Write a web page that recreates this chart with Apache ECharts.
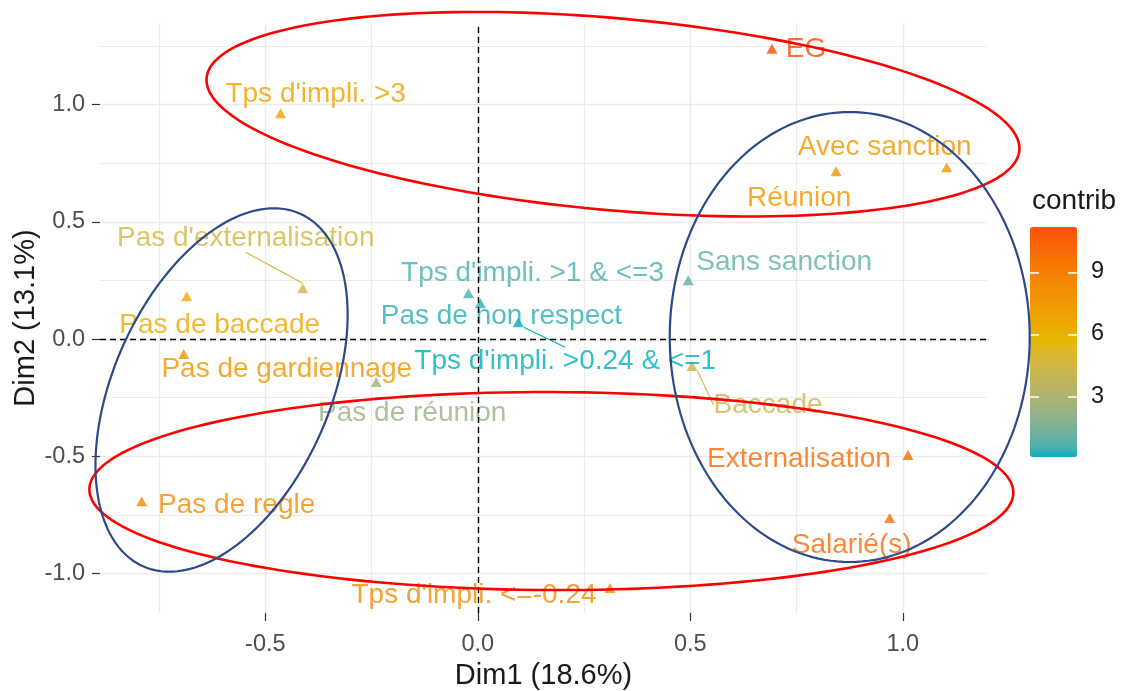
<!DOCTYPE html>
<html><head><meta charset="utf-8">
<script src="https://cdn.jsdelivr.net/npm/echarts@6/dist/echarts.min.js"></script>
<style>html,body{margin:0;padding:0;background:#fff}#c{width:1128px;height:691px}</style>
</head><body><div id="c"></div>
<script>
// ---------------- data ----------------
const categories = ["EG","Tps d'impli. >3","Avec sanction","Réunion","Pas d'externalisation","Pas de baccade",
  "Tps d'impli. >1 & <=3","Pas de non respect","Tps d'impli. >0.24 & <=1","Sans sanction","Pas de gardiennage",
  "Pas de réunion","Baccade","Externalisation","Pas de regle","Salarié(s)","Tps d'impli. <=-0.24"];
const dim1 = [0.692,-0.464,1.103,0.843,-0.412,-0.685,-0.022,0.006,0.095,0.495,-0.692,-0.239,0.504,1.012,-0.791,0.969,0.311];
const dim2 = [1.238,0.963,0.733,0.716,0.217,0.183,0.196,0.153,0.072,0.251,-0.064,-0.183,-0.115,-0.494,-0.691,-0.763,-1.061];
const contrib = [11.22,7.0,7.7,7.7,4.6,6.6,0.6,0.3,0.10,0.9,7.8,2.3,4.4,10.0,8.4,10.0,8.4];
const xTicks = [-0.5,0.0,0.5,1.0];
const yTicks = [-1.0,-0.5,0.0,0.5,1.0];
const xMinor = [-0.75,-0.25,0.25,0.75];
const yMinor = [-0.75,-0.25,0.25,0.75,1.25];
const legendTicks = [3,6,9];
const legendTitle = "contrib";
const xName = "Dim1 (18.6%)";
const yName = "Dim2 (13.1%)";

// ---------------- layout / styling ----------------
const X_MIN=-0.889, X_MAX=1.198, Y_MIN=-1.168, Y_MAX=1.348;
const FONT = "'Liberation Sans', Arial, sans-serif";
const gradCols = ['#00AFBB','#E7B800','#FC4E07'];
// label centre offset (px) from its point
const labelOffsets = {
  "EG":[34,0], "Tps d'impli. >3":[35,-19], "Avec sanction":[-62,-20], "Réunion":[-37,27],
  "Pas d'externalisation":[-57,-50], "Pas de baccade":[33,29], "Tps d'impli. >1 & <=3":[64,-20],
  "Pas de non respect":[21,13], "Tps d'impli. >0.24 & <=1":[47,39], "Sans sanction":[96,-18],
  "Pas de gardiennage":[103,15], "Pas de réunion":[36,31], "Baccade":[76,39], "Externalisation":[-109,4],
  "Pas de regle":[95,4], "Salarié(s)":[-38,27], "Tps d'impli. <=-0.24":[-136,7]
};
const guided = new Set(["Pas d'externalisation","Tps d'impli. >0.24 & <=1","Baccade"]);
// highlight ellipses: centre in data units, semi-axes in px, rotation deg (screen, clockwise)
const ellipses = [
  {cx:0.318, cy:0.959, a:408, b:96, rot:5.1, color:'#FF0000', w:2.6},
  {cx:0.173, cy:-0.648, a:462, b:99, rot:0.2, color:'#FF0000', w:2.6},
  {cx:-0.603, cy:-0.217, a:193, b:108, rot:-66, color:'#2C4A8A', w:2.2},
  {cx:0.875, cy:0.009, a:225, b:180, rot:90, color:'#2C4A8A', w:2.2}
];

// ---- CIELAB interpolation of the gradient (like ggplot's colour ramp) ----
function hex2lab(h){
  let r=parseInt(h.slice(1,3),16)/255, g=parseInt(h.slice(3,5),16)/255, b=parseInt(h.slice(5,7),16)/255;
  const lin=c=>c<=0.04045?c/12.92:Math.pow((c+0.055)/1.055,2.4);
  r=lin(r); g=lin(g); b=lin(b);
  let X=(r*0.4124564+g*0.3575761+b*0.1804375)/0.95047, Y=(r*0.2126729+g*0.7151522+b*0.0721750), Z=(r*0.0193339+g*0.1191920+b*0.9503041)/1.08883;
  const f=t=>t>0.008856?Math.cbrt(t):(7.787*t+16/116);
  X=f(X);Y=f(Y);Z=f(Z);
  return [116*Y-16, 500*(X-Y), 200*(Y-Z)];
}
function lab2hex(l){
  let Y=(l[0]+16)/116, X=l[1]/500+Y, Z=Y-l[2]/200;
  const fi=t=>t*t*t>0.008856?t*t*t:(t-16/116)/7.787;
  X=fi(X)*0.95047; Y=fi(Y); Z=fi(Z)*1.08883;
  let r=X*3.2404542+Y*-1.5371385+Z*-0.4985314, g=X*-0.9692660+Y*1.8760108+Z*0.0415560, b=X*0.0556434+Y*-0.2040259+Z*1.0572252;
  const gam=c=>{c=c<=0.0031308?12.92*c:1.055*Math.pow(c,1/2.4)-0.055; return Math.max(0,Math.min(255,Math.round(c*255)));};
  return '#'+[gam(r),gam(g),gam(b)].map(v=>v.toString(16).padStart(2,'0')).join('');
}
const labs = gradCols.map(hex2lab);
const rampColors = [];
for(let i=0;i<=40;i++){
  const t=i/40*(labs.length-1), k=Math.min(Math.floor(t),labs.length-2), f=t-k;
  rampColors.push(lab2hex(labs[k].map((v,j)=>v+(labs[k+1][j]-v)*f)));
}

const cMin = Math.min(...contrib), cMax = Math.max(...contrib);
const fmt = v => Number(v).toFixed(1);
const points = categories.map((n,i)=>({
  name:n, value:[dim1[i],dim2[i],contrib[i]],
  labelLine:{show:guided.has(n), lineStyle:{width:1.1}}
}));

const chart = echarts.init(document.getElementById('c'), null, {renderer:'canvas'});

const LEG = {left:1030, top:227, w:47, h:230};
const legY = v => LEG.top + (cMax - v)/(cMax - cMin)*LEG.h;
const graphics = [
  {type:'text', left:1032, top:187, style:{text:legendTitle, font:`28px ${FONT}`, fill:'#1a1a1a'}},
  {type:'text', x:26, y:318, rotation:Math.PI/2, style:{text:yName, font:`29px ${FONT}`, fill:'#1a1a1a', align:'center', verticalAlign:'middle'}}
];
legendTicks.forEach(t=>{
  const y = legY(t);
  graphics.push({type:'text', left:1091, top:y-13, style:{text:String(t), font:`23.5px ${FONT}`, fill:'#1a1a1a'}, z:10});
  graphics.push({type:'line', shape:{x1:LEG.left, y1:y, x2:LEG.left+9, y2:y}, style:{stroke:'#fff', lineWidth:1.5}, z:10});
  graphics.push({type:'line', shape:{x1:LEG.left+LEG.w-9, y1:y, x2:LEG.left+LEG.w, y2:y}, style:{stroke:'#fff', lineWidth:1.5}, z:10});
});

const option = {
  backgroundColor:'#fff',
  animation:false,
  textStyle:{fontFamily:FONT},
  grid:{left:100, right:141, top:23, bottom:78, containLabel:false, outerBoundsMode:'none'},
  xAxis:[
    {type:'value', min:X_MIN, max:X_MAX,
     axisLine:{show:false, onZero:false},
     axisTick:{show:true, length:8, customValues:xTicks, lineStyle:{color:'#333', width:1.2}},
     axisLabel:{customValues:xTicks, formatter:fmt, fontSize:23.5, color:'#4D4D4D', margin:20, fontFamily:FONT},
     splitLine:{show:true, lineStyle:{color:'#EBEBEB', width:1.4}},
     name:xName, nameLocation:'middle', nameGap:47,
     nameTextStyle:{fontSize:29, color:'#1a1a1a', fontFamily:FONT}},
    {type:'value', min:X_MIN, max:X_MAX, position:'bottom',
     axisLine:{show:false, onZero:false}, axisTick:{show:false, customValues:xMinor}, axisLabel:{show:false, customValues:xMinor},
     splitLine:{show:true, lineStyle:{color:'#EBEBEB', width:1.2}}}
  ],
  yAxis:[
    {type:'value', min:Y_MIN, max:Y_MAX,
     axisLine:{show:false, onZero:false},
     axisTick:{show:true, length:8, customValues:yTicks, lineStyle:{color:'#333', width:1.2}},
     axisLabel:{customValues:yTicks, formatter:fmt, fontSize:23.5, color:'#4D4D4D', margin:15, fontFamily:FONT},
     splitLine:{show:true, lineStyle:{color:'#EBEBEB', width:1.4}}},
    {type:'value', min:Y_MIN, max:Y_MAX, position:'left',
     axisLine:{show:false, onZero:false}, axisTick:{show:false, customValues:yMinor}, axisLabel:{show:false, customValues:yMinor},
     splitLine:{show:true, lineStyle:{color:'#EBEBEB', width:1.2}}}
  ],
  visualMap:{type:'continuous', seriesIndex:0, dimension:2, min:cMin, max:cMax,
    inRange:{color:rampColors}, left:LEG.left, top:LEG.top, itemWidth:LEG.w, itemHeight:LEG.h,
    calculable:false, padding:0, orient:'vertical', showLabel:false, hoverLink:false},
  graphic:graphics,
  series:[
    {type:'scatter', xAxisIndex:0, yAxisIndex:0, data:points, symbol:'triangle', symbolSize:[11,10], z:3,
     encode:{x:0, y:1},
     label:{show:true, position:'inside', formatter:p=>p.name, color:'inherit', fontSize:28, fontFamily:FONT},
     labelLine:{show:false},
     labelLayout:function(p){
       const o = labelOffsets[categories[p.dataIndex]] || [0,0];
       return {x:p.rect.x + p.rect.width/2 + o[0], y:p.rect.y + p.rect.height/2 + o[1], align:'center', verticalAlign:'middle'};
     },
     markLine:{silent:true, symbol:'none', label:{show:false},
       lineStyle:{color:'#000', type:[6,4], width:1.4},
       data:[{xAxis:0},{yAxis:0}]}
    },
    {type:'custom', xAxisIndex:0, yAxisIndex:0, z:10, clip:false, silent:true,
     data:ellipses.map(e=>[e.cx, e.cy]),
     renderItem:function(params, api){
       const e = ellipses[params.dataIndex];
       const c = api.coord([api.value(0), api.value(1)]);
       const phi = e.rot*Math.PI/180, pts=[];
       for(let k=0;k<=180;k++){
         const t = k/180*2*Math.PI;
         const ux = e.a*Math.cos(t), uy = e.b*Math.sin(t);
         pts.push([c[0] + ux*Math.cos(phi) - uy*Math.sin(phi), c[1] + ux*Math.sin(phi) + uy*Math.cos(phi)]);
       }
       return {type:'polygon', shape:{points:pts}, style:{fill:'none', stroke:e.color, lineWidth:e.w}};
     }}
  ]
};
chart.setOption(option);
</script></body></html>
